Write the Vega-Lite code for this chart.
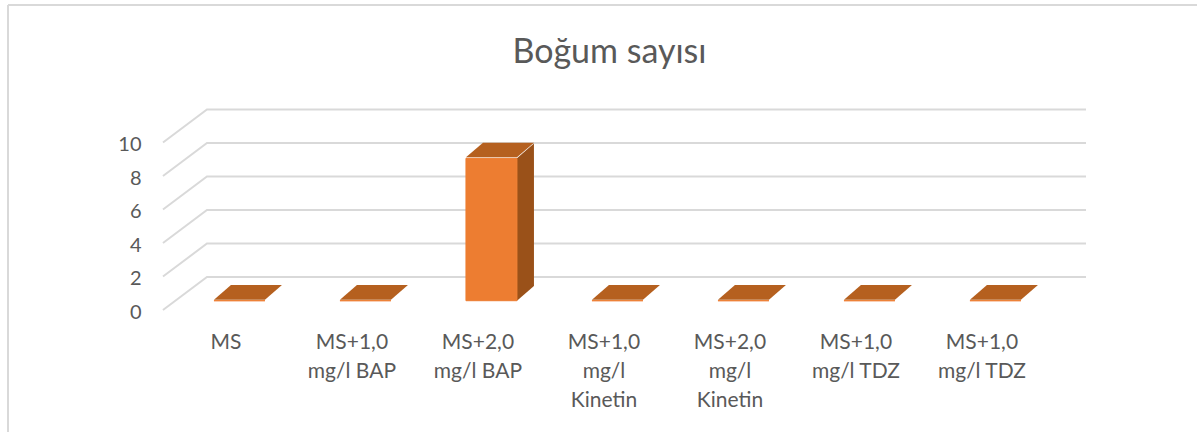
{"$schema":"https://vega.github.io/schema/vega-lite/v6.json","autosize":{"type":"none"},"padding":{"left":8,"top":5,"right":0,"bottom":0},"width":1189,"height":427,"background":"white","config":{"view":{"stroke":null},"font":"Lato"},"title":{"text":"Boğum sayısı","font":"Lato","fontSize":34,"fontWeight":"normal","color":"#595959","anchor":"middle","dx":7,"offset":-66},"datasets":{"bars":[{"i":0,"treatment":"MS","value":0},{"i":1,"treatment":"MS+1,0 mg/l BAP","value":0},{"i":2,"treatment":"MS+2,0 mg/l BAP","value":8.5},{"i":3,"treatment":"MS+1,0 mg/l Kinetin","value":0},{"i":4,"treatment":"MS+2,0 mg/l Kinetin","value":0},{"i":5,"treatment":"MS+1,0 mg/l TDZ","value":0},{"i":6,"treatment":"MS+1,0 mg/l TDZ","value":0}],"grid":[{"tick":0},{"tick":2},{"tick":4},{"tick":6},{"tick":8},{"tick":10}]},"layer":[{"data":{"name":"grid"},"mark":{"type":"point","shape":"M0,0 L44,-33 L923,-33","filled":false,"size":4,"stroke":"#D9D9D9","strokeWidth":2,"opacity":1},"encoding":{"x":{"datum":-0.607,"type":"quantitative","scale":{"domain":[-1.837,7.5996],"nice":false,"zero":false,"padding":0},"axis":{"values":[0,1,2,3,4,5,6],"title":null,"grid":false,"domain":false,"ticks":false,"orient":"bottom","offset":-117,"labelPadding":16,"labelOffset":-14,"labelFont":"Lato","labelFontSize":21,"labelColor":"#595959","labelLimit":0,"labelLineHeight":29,"labelAngle":0,"labelFlush":false,"labelOverlap":false,"labelBaseline":"top","labelExpr":"[['MS'],['MS+1,0','mg/l BAP'],['MS+2,0','mg/l BAP'],['MS+1,0','mg/l','Kinetin'],['MS+2,0','mg/l','Kinetin'],['MS+1,0','mg/l TDZ'],['MS+1,0','mg/l TDZ']][datum.value]"}},"y":{"field":"tick","type":"quantitative","scale":{"domain":[-7.283,18.21],"nice":false,"zero":false,"padding":0},"axis":{"values":[0,2,4,6,8,10],"title":null,"grid":false,"domain":false,"ticks":false,"offset":-155,"labelPadding":22,"labelOffset":2,"labelFont":"Lato","labelFontSize":20,"labelColor":"#595959"}}}},{"data":{"values":[{"edge":"left"}]},"mark":{"type":"rule","stroke":"#D9D9D9","strokeWidth":2},"encoding":{"x":{"datum":-1.837,"type":"quantitative"}}},{"data":{"values":[{"edge":"top"}]},"mark":{"type":"rule","stroke":"#D9D9D9","strokeWidth":2},"encoding":{"y":{"datum":18.21,"type":"quantitative"}}},{"data":{"name":"bars"},"transform":[{"filter":"datum.value > 0"}],"mark":{"type":"point","shape":"M25.5,0 L42.5,-14.7 L42.5,-157.1 L25.5,-142.4 Z","filled":true,"size":4,"fill":"#9A5119","opacity":1,"yOffset":-9.3},"encoding":{"x":{"field":"i","type":"quantitative"},"y":{"datum":0,"type":"quantitative"}}},{"data":{"name":"bars"},"mark":{"type":"bar","width":51,"fill":"#ED7D31","stroke":"#ED7D31","strokeWidth":1,"yOffset":-9.3,"y2Offset":-9.3,"orient":"vertical"},"encoding":{"x":{"field":"i","type":"quantitative"},"y":{"field":"value","type":"quantitative"},"y2":{"datum":0}}},{"data":{"name":"bars"},"mark":{"type":"point","shape":"M-25.5,0 L25.5,0 L42.5,-14.7 L-8.5,-14.7 Z","filled":true,"size":4,"fill":"#B5601F","opacity":1,"yOffset":-10.3},"encoding":{"x":{"field":"i","type":"quantitative"},"y":{"field":"value","type":"quantitative"}}}]}
